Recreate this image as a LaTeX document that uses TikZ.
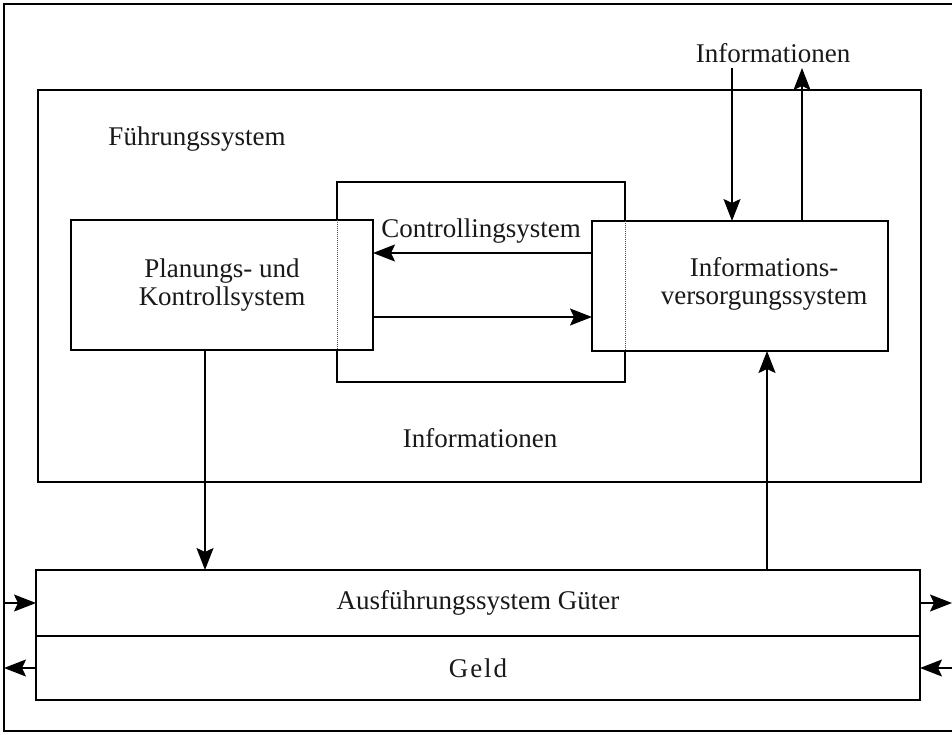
\documentclass[tikz,border=0pt]{standalone}
\usepackage{fontspec}
\setmainfont{Liberation Serif}
\usetikzlibrary{arrows.meta, positioning}

\begin{document}
\begin{tikzpicture}[x=1pt, y=-1pt,
    every node/.style={font=\fontsize{27}{28}\selectfont, text=black!90, align=center},
    box/.style={draw, line width=1.6pt, inner sep=0pt, outer sep=0pt, fill=white},
    pfeil/.style={line width=1.6pt, -{Stealth[length=22pt, width=17pt, inset=4pt]}},
    verdeckt/.style={densely dotted, line width=1pt, black!70}
]
\useasboundingbox (0,0) rectangle (952,735);

% outer frame, open to the right
\draw[line width=1.6pt] (952,4) -- (4,4) -- (4,731) -- (952,731);

% Fuehrungssystem
\node[box, minimum width=883pt, minimum height=392pt] (fuehrung) at (479.5,286) {};
\node (titel) at (197,139) {Führungssystem};

% Controllingsystem with the two subsystems
\node[box, minimum width=288pt, minimum height=200pt] (ctrl) at (481,282) {};
\node (ctrltext) at (481,231) {Controllingsystem};
\node[box, minimum width=302pt, minimum height=130pt] (planung) at (222,285)
    {Planungs- und\\Kontrollsystem};
\node[box, minimum width=296pt, minimum height=130pt] (info) at (740,286) {};
\node (infotext) at (764,284) {Informations-\\versorgungssystem};
\draw[verdeckt] (ctrl.west |- planung.north) -- (ctrl.west |- planung.south);
\draw[verdeckt] (ctrl.east |- info.north) -- (ctrl.east |- info.south);

\draw[pfeil] ([yshift=33pt]info.west) -- ([yshift=33pt]info.west -| planung.east);
\draw[pfeil] ([yshift=-32pt]planung.east) -- ([yshift=-32pt]planung.east -| info.west);

\node (infounten) at (480,438) {Informationen};

% Informationen from and to the environment
\node (infooben) at (773,53) {Informationen};
\coordinate (ein) at (732,68);
\coordinate (aus) at (802,68);
\draw[pfeil] (ein) -- (ein |- info.north);
\draw[pfeil] (aus |- info.north) -- (aus);

% Ausfuehrungssystem
\node[box, minimum width=884pt, minimum height=66pt] (gueter) at (478,603)
    {Ausführungssystem Güter};
\node[box, minimum width=884pt, minimum height=64pt, below=0pt of gueter] (geld)
    {G\kern2pt e\kern2pt l\kern2pt d};

\draw[pfeil] ([xshift=-17pt]planung.south) -- ([xshift=-17pt]planung.south |- gueter.north);
\draw[pfeil] ([xshift=27pt]info.south |- gueter.north) -- ([xshift=27pt]info.south);

% flows across the frame
\coordinate (links) at (4,0);
\coordinate (rechts) at (952,0);
\draw[pfeil] (links |- gueter) -- (gueter.west);
\draw[pfeil] (gueter.east) -- (rechts |- gueter);
\draw[pfeil] (geld.west) -- (links |- geld);
\draw[pfeil] (rechts |- geld) -- (geld.east);

\end{tikzpicture}
\end{document}
